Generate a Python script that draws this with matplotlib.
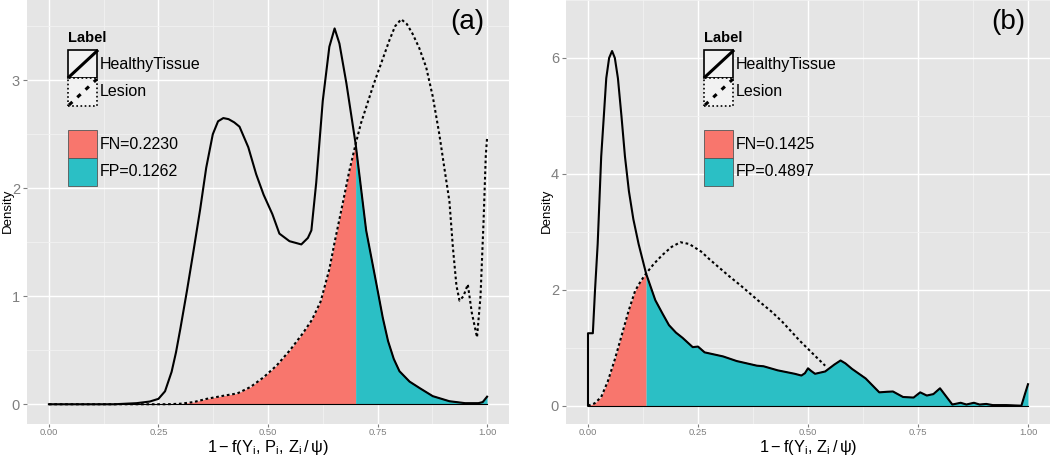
import matplotlib
matplotlib.use("Agg")
import matplotlib.pyplot as plt
from matplotlib.patches import Rectangle
from matplotlib.lines import Line2D

plt.rcParams['font.family'] = ['Liberation Sans', 'DejaVu Sans']
plt.rcParams['mathtext.fontset'] = 'custom'
plt.rcParams['mathtext.rm'] = 'Liberation Sans'
plt.rcParams['mathtext.it'] = 'Liberation Sans:italic'
plt.rcParams['mathtext.sf'] = 'Liberation Sans'

# ---------------- data: panel (a) ----------------
a_healthy_x = [0.0, 0.15, 0.20, 0.23, 0.25, 0.265, 0.28, 0.29, 0.30, 0.315, 0.33, 0.345, 0.359, 0.374,
               0.386, 0.398, 0.41, 0.423, 0.435, 0.455, 0.473, 0.49, 0.51, 0.526, 0.549, 0.576, 0.591,
               0.599, 0.61, 0.625, 0.64, 0.652, 0.663, 0.679, 0.70, 0.724, 0.749, 0.762, 0.774, 0.787,
               0.80, 0.823, 0.846, 0.876, 0.914, 0.95, 0.98, 0.99, 1.0]
a_healthy_y = [0.0, 0.0, 0.01, 0.025, 0.05, 0.12, 0.30, 0.48, 0.70, 1.05, 1.42, 1.80, 2.19, 2.50,
               2.62, 2.65, 2.64, 2.61, 2.57, 2.38, 2.13, 1.94, 1.76, 1.58, 1.51, 1.48, 1.54,
               1.61, 2.05, 2.81, 3.31, 3.48, 3.34, 2.97, 2.41, 1.61, 1.08, 0.80, 0.585, 0.42,
               0.306, 0.21, 0.15, 0.075, 0.028, 0.01, 0.01, 0.02, 0.07]
a_lesion_x = [0.0, 0.27, 0.30, 0.33, 0.36, 0.40, 0.43, 0.46, 0.49, 0.52, 0.55, 0.58, 0.60, 0.62,
              0.64, 0.652, 0.67, 0.685, 0.70, 0.712, 0.724, 0.74, 0.755, 0.777, 0.79, 0.804, 0.817,
              0.83, 0.845, 0.861, 0.876, 0.891, 0.902, 0.914, 0.922, 0.93, 0.937, 0.946, 0.956,
              0.965, 0.977, 0.985, 0.992, 0.997, 1.0]
a_lesion_y = [0.0, 0.0, 0.005, 0.02, 0.05, 0.08, 0.10, 0.16, 0.25, 0.36, 0.50, 0.66, 0.78, 0.95,
              1.25, 1.50, 1.85, 2.15, 2.41, 2.60, 2.75, 2.95, 3.12, 3.37, 3.50, 3.565, 3.52,
              3.43, 3.30, 3.12, 2.85, 2.50, 2.20, 1.88, 1.45, 1.10, 0.96, 1.00, 1.11,
              0.85, 0.62, 1.00, 1.70, 2.30, 2.47]
a_threshold = 0.70
a_labels = ['FN=0.2230', 'FP=0.1262']

# ---------------- data: panel (b) ----------------
b_healthy_x = [0.0, 0.0, 0.011, 0.016, 0.022, 0.03, 0.036, 0.0415, 0.048, 0.0547, 0.061, 0.068,
               0.076, 0.084, 0.093, 0.103, 0.115, 0.132, 0.153, 0.17, 0.184, 0.20, 0.215, 0.238,
               0.25, 0.265, 0.307, 0.338, 0.384, 0.399, 0.431, 0.47, 0.485, 0.493, 0.50, 0.507,
               0.516, 0.539, 0.56, 0.574, 0.585, 0.60, 0.631, 0.662, 0.68, 0.693, 0.716, 0.74,
               0.755, 0.77, 0.785, 0.80, 0.81, 0.828, 0.847, 0.86, 0.877, 0.89, 0.905, 0.92,
               0.95, 0.985, 0.993, 1.0]
b_healthy_y = [0.0, 1.25, 1.25, 2.0, 2.79, 4.3, 5.0, 5.65, 6.0, 6.12, 6.0, 5.65,
               5.0, 4.3, 3.7, 3.22, 2.79, 2.28, 1.82, 1.58, 1.39, 1.26, 1.17, 1.01,
               1.02, 0.92, 0.85, 0.77, 0.69, 0.68, 0.61, 0.55, 0.52, 0.56, 0.645, 0.60,
               0.55, 0.59, 0.71, 0.78, 0.73, 0.635, 0.47, 0.23, 0.24, 0.245, 0.15, 0.14,
               0.23, 0.175, 0.20, 0.30, 0.20, 0.02, 0.05, 0.02, 0.05, 0.02, 0.03, 0.01,
               0.01, 0.0, 0.2, 0.37]
b_lesion_x = [0.0, 0.015, 0.03, 0.045, 0.061, 0.076, 0.092, 0.107, 0.12, 0.132, 0.15, 0.169,
              0.19, 0.21, 0.23, 0.257, 0.277, 0.30, 0.323, 0.346, 0.369, 0.392, 0.416, 0.44,
              0.462, 0.48, 0.50, 0.52, 0.539]
b_lesion_y = [0.0, 0.04, 0.15, 0.42, 0.80, 1.20, 1.63, 1.98, 2.15, 2.28, 2.45, 2.60,
              2.74, 2.82, 2.79, 2.66, 2.52, 2.37, 2.22, 2.08, 1.93, 1.78, 1.63, 1.46,
              1.28, 1.13, 0.98, 0.83, 0.69]
b_threshold = 0.132
b_labels = ['FN=0.1425', 'FP=0.4897']

x_ticks = [0.0, 0.25, 0.5, 0.75, 1.0]
x_ticklabels = ['0.00', '0.25', '0.50', '0.75', '1.00']
a_yticks = [0, 1, 2, 3]
b_yticks = [0, 2, 4, 6]
series_names = ['HealthyTissue', 'Lesion']

RED = '#F8766D'
TEAL = '#2BBFC5'
W, H = 1050, 458
fig = plt.figure(figsize=(W / 100, H / 100), dpi=100)


def fx(px):
    return px / W


def fy(py):
    return 1 - py / H


def draw_panel(left, right, hx, hy, lx, ly, thr, yticks, ymax, xlabel, tag, legx, labels):
    ax_h = 423.5 / H
    ax = fig.add_axes([fx(left), 1 - ax_h, (right - left) / W, ax_h])
    ax.set_facecolor('#E5E5E5')
    for s in ax.spines.values():
        s.set_visible(False)
    ax.set_xlim(-0.05, 1.05)
    ax.set_ylim(-0.05 * ymax, 1.05 * ymax)
    ax.set_xticks(x_ticks)
    ax.set_xticklabels(x_ticklabels, fontsize=6.8, color='#7F7F7F', stretch='condensed')
    ax.set_yticks(yticks)
    ax.set_yticklabels([str(t) for t in yticks], fontsize=10.5, color='#7F7F7F')
    ax.set_xticks([0.125, 0.375, 0.625, 0.875], minor=True)
    ax.set_yticks([t + (yticks[1] - yticks[0]) / 2 for t in yticks], minor=True)
    ax.tick_params(which='major', length=3, color='#7F7F7F', width=0.8, pad=2)
    ax.tick_params(axis='x', which='major', length=2.5, pad=0.5)
    ax.tick_params(which='minor', length=0)
    ax.grid(which='major', color='white', lw=1.0)
    ax.grid(which='minor', color='#F2F2F2', lw=0.6)
    ax.set_axisbelow(True)

    # fills
    rx = [x for x in lx if x <= thr]
    ry = [y for x, y in zip(lx, ly) if x <= thr]
    tx = [x for x in hx if x >= thr]
    ty = [y for x, y in zip(hx, hy) if x >= thr]
    ax.fill_between(rx, 0, ry, color=RED, lw=0, zorder=2)
    ax.fill_between(tx, 0, ty, color=TEAL, lw=0, zorder=2)
    ax.plot(tx, ty, color='black', lw=0.6, zorder=3)
    ax.plot([rx[0], tx[-1]], [0, 0], color='black', lw=0.8, zorder=3)
    # lines
    ax.plot(lx, ly, color='black', lw=1.5, ls=(0, (1.3, 1.3)), zorder=4)
    ax.plot(hx, hy, color='black', lw=1.5, zorder=5)

    # axis titles placed as in the reference
    cx = (left + right) / 2
    fig.text(fx(cx), fy(447.5), xlabel, fontsize=11.8, ha='center', va='center')
    fig.text(fx(left - 19), fy(211), 'Density', fontsize=9.5, rotation=90, ha='center', va='center')
    ax.text(0.913, 0.948, tag, transform=ax.transAxes, ha='center', va='center', fontsize=20)

    # legend (drawn manually, ggplot style)
    kw, kh = 29, 28
    fig.text(fx(legx), fy(38), 'Label', fontsize=10.5, fontweight='bold', ha='left', va='center')
    y0 = 50
    fig.add_artist(Rectangle((fx(legx), fy(y0 + kh)), kw / W, kh / H, transform=fig.transFigure,
                             facecolor='#F2F2F2', edgecolor='black', lw=1.2))
    fig.add_artist(Line2D([fx(legx + 1), fx(legx + kw)], [fy(y0 + kh - 1), fy(y0 + 1)],
                          transform=fig.transFigure, color='black', lw=2.2))
    fig.text(fx(legx + kw + 3), fy(y0 + kh / 2), series_names[0], fontsize=11.5, ha='left', va='center')
    y1 = y0 + kh
    fig.add_artist(Rectangle((fx(legx), fy(y1 + kh)), kw / W, kh / H, transform=fig.transFigure,
                             facecolor='#F2F2F2', edgecolor='black', lw=1.2, ls=(0, (1, 1.5))))
    fig.add_artist(Line2D([fx(legx + 1), fx(legx + kw)], [fy(y1 + kh - 1), fy(y1 + 1)],
                          transform=fig.transFigure, color='black', lw=2.2, ls=(0, (1.5, 2.2))))
    fig.text(fx(legx + kw + 3), fy(y1 + kh / 2), series_names[1], fontsize=11.5, ha='left', va='center')
    y2 = 130
    for i, (c, lab) in enumerate(zip([RED, TEAL], labels)):
        yy = y2 + i * kh
        fig.add_artist(Rectangle((fx(legx), fy(yy + kh)), kw / W, kh / H, transform=fig.transFigure,
                                 facecolor=c, edgecolor='#555555', lw=0.6))
        fig.text(fx(legx + kw + 3), fy(yy + kh / 2), lab, fontsize=11.5, ha='left', va='center')
    return ax


draw_panel(27, 509, a_healthy_x, a_healthy_y, a_lesion_x, a_lesion_y,
           a_threshold, a_yticks, 3.565,
           r'$\mathrm{1-f(Y_i,\,P_i,\,Z_i\,/\,\psi)}$', '(a)', 68, a_labels)
draw_panel(566, 1050, b_healthy_x, b_healthy_y, b_lesion_x, b_lesion_y,
           b_threshold, b_yticks, 6.15,
           r'$\mathrm{1-f(Y_i,\,Z_i\,/\,\psi)}$', '(b)', 704, b_labels)

fig.savefig('out.png', dpi=100)
